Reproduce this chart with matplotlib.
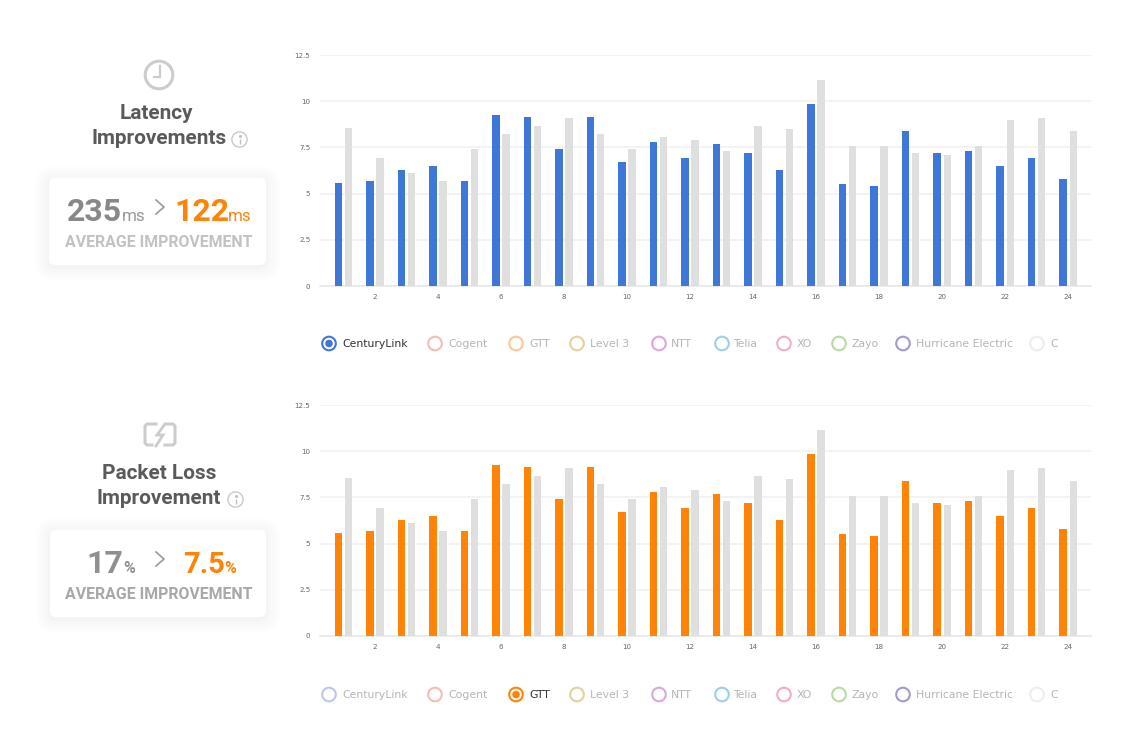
import matplotlib
matplotlib.use('Agg')
import matplotlib.pyplot as plt
import numpy as np

from matplotlib.patches import Circle, FancyBboxPatch

hours = list(range(1, 25))
provider_values = [5.6, 5.7, 6.3, 6.5, 5.7, 9.25, 9.15, 7.4, 9.15, 6.7, 7.8, 6.9,
                   7.7, 7.2, 6.3, 9.85, 5.5, 5.4, 8.4, 7.2, 7.3, 6.5, 6.9, 5.8]
baseline_values = [8.55, 6.9, 6.1, 5.7, 7.4, 8.25, 8.65, 9.1, 8.25, 7.4, 8.05, 7.9,
                   7.3, 8.65, 8.5, 11.15, 7.55, 7.55, 7.2, 7.1, 7.55, 9.0, 9.1, 8.4]
y_ticks = [0, 2.5, 5, 7.5, 10, 12.5]
y_labels = ['0', '2.5', '5', '7.5', '10', '12.5']
x_ticks = list(range(2, 25, 2))

providers = ['CenturyLink', 'Cogent', 'GTT', 'Level 3', 'NTT', 'Telia', 'XO',
             'Zayo', 'Hurricane Electric', 'C']
full_colors = ['#3f77d8', '#f6bcb6', '#ff8306', '#e6cfa0', '#dba7dc', '#99d0ec',
               '#f2aec8', '#b8dca0', '#a59ad0', '#eeeeee']
faded_first = '#b8c9f0'
marker_x = [329, 435, 516, 577, 659, 722, 784, 839, 903, 1037]
text_x = [342, 448, 529, 590, 671, 733, 797, 852, 916, 1050]

W, H = 1124, 729
PX = 0.72  # pt per px at dpi 100

fig = plt.figure(figsize=(W / 100, H / 100), dpi=100, facecolor='white')

# overlay in pixel coords for the left panels and legends
over = fig.add_axes([0, 0, 1, 1], zorder=3)
over.set_xlim(0, W)
over.set_ylim(H, 0)
over.axis('off')
over.patch.set_alpha(0)


def draw_chart(y_zero, y_top, color):
    left, right = 320, 1091
    ax = fig.add_axes([left / W, 1 - y_zero / H, (right - left) / W, (y_zero - y_top) / H])
    x = np.array(hours)
    ax.bar(x - 0.16, provider_values, width=0.225, color=color, zorder=3)
    ax.bar(x + 0.16, baseline_values, width=0.225, color='#dfdfdf', zorder=3)
    ax.set_xlim(0.254, 24.73)
    ax.set_ylim(0, 12.5)
    ax.set_yticks(y_ticks)
    ax.set_yticklabels(y_labels)
    ax.set_xticks(x_ticks)
    ax.tick_params(length=0, labelsize=6.5 * PX * 1.1, labelcolor='#666666')
    ax.tick_params(axis='y', pad=7)
    ax.tick_params(axis='x', pad=6)
    ax.grid(axis='y', color='#f0f0f0', lw=1.1, zorder=0)
    ax.set_axisbelow(True)
    for name, sp in ax.spines.items():
        sp.set_visible(name == 'bottom')
    ax.spines['bottom'].set_color('#e6e6ea')
    ax.spines['bottom'].set_linewidth(1.1)
    ax.patch.set_alpha(0)


def draw_legend(y, active):
    for i, name in enumerate(providers):
        col = full_colors[i]
        if i == 0 and active != 0:
            col = faded_first
        if i == 2 and active != 2:
            col = '#fdc79c'
        over.add_patch(Circle((marker_x[i], y), 6.8, fc='white', ec=col, lw=1.5))
        if i == active:
            over.add_patch(Circle((marker_x[i], y), 3.8, fc=col, ec='none'))
        over.text(text_x[i], y, name, fontsize=10.9 * PX, va='center', ha='left',
                  color='#333333' if i == active else '#b5b5b5',
                  family='DejaVu Sans')


def draw_card(x0, y0, x1, y1):
    # stacked translucent boxes for the soft shadow
    for grow, alpha in zip([14, 11, 8, 5, 2], [0.006, 0.007, 0.008, 0.009, 0.01]):
        over.add_patch(FancyBboxPatch((x0 - grow, y0 - grow + 2), x1 - x0 + 2 * grow, y1 - y0 + 2 * grow,
                                      boxstyle='round,pad=0,rounding_size=%d' % (6 + grow),
                                      fc='black', ec='none', alpha=alpha))
    over.add_patch(FancyBboxPatch((x0, y0), x1 - x0, y1 - y0, boxstyle='round,pad=0,rounding_size=6',
                                  fc='white', ec='none'))


def draw_info(x, y):
    over.add_patch(Circle((x, y), 7.6, fc='none', ec='#c9c9c9', lw=1.0))
    over.plot([x, x], [y - 1, y + 4], color='#c0c0c0', lw=1.0, solid_capstyle='butt')
    over.plot([x], [y - 3.4], 'o', ms=1.2, color='#c0c0c0')


def draw_chevron(x, y):
    over.plot([x - 4, x + 4, x - 4], [y - 7, y, y + 7], color='#999999', lw=1.2)


def big(x, y, s, color, size=32):
    over.text(x, y, s, fontsize=size * PX, fontweight='bold', color=color, ha='left', va='baseline',
              family='Roboto')


def unit(x, y, s, color, weight='normal', size=17):
    over.text(x, y, s, fontsize=size * PX, fontweight=weight, color=color, ha='left', va='baseline',
              family='Roboto')


def title(x, y, s):
    over.text(x, y, s, fontsize=20.8 * PX, fontweight='bold', color='#5a5a5a', ha='center', va='center',
              family='Roboto')


def caption(x, y):
    over.text(x, y, 'AVERAGE IMPROVEMENT', fontsize=15.9 * PX, fontweight='bold', ha='center', va='center',
              color='#c2c2c2' if y < 400 else '#a8a8a8', family='Roboto')


draw_chart(286, 55, full_colors[0])
draw_chart(636, 405, full_colors[2])
draw_legend(343.5, 0)
draw_legend(694.5, 2)

# latency panel
over.add_patch(Circle((159, 75), 13.8, fc='none', ec='#cccccc', lw=2.2))
over.plot([159.5, 159.5, 154], [66, 77, 77], color='#cccccc', lw=1.6, solid_joinstyle='miter')
title(156, 113.5, 'Latency')
title(159, 138.5, 'Improvements')
draw_info(239.5, 139.5)
draw_card(49, 178, 266, 265)
big(67, 221, '235', '#888888')
unit(122, 221, 'ms', '#999999')
draw_chevron(160, 207)
big(174, 221, '122', '#ff8306')
unit(228, 221, 'ms', '#ff8306')
caption(159, 242.5)

# packet loss panel
for pts in ([[156, 424], [147, 424], [145, 426], [145, 443], [147, 445], [152, 445]],
            [[167, 424], [173, 424], [175, 426], [175, 443], [173, 445], [165, 445]]):
    arr = np.array(pts)
    over.plot(arr[:, 0], arr[:, 1], color='#cccccc', lw=2.2, solid_joinstyle='round')
over.plot([165, 157, 163, 156], [424, 435, 435, 446], color='#cccccc', lw=2.0, solid_joinstyle='miter')
title(159, 473.5, 'Packet Loss')
title(159, 498.5, 'Improvement')
draw_info(235.5, 499.5)
draw_card(50, 530, 266, 617)
big(86, 573, '17', '#909090')
unit(123, 573, '%', '#909090', weight='bold', size=16)
draw_chevron(160, 559)
big(183, 573, '7.5', '#ff8306', size=29)
unit(224, 573, '%', '#ff8306', weight='bold', size=16)
caption(159, 594.5)

fig.savefig('out.png', dpi=100)
